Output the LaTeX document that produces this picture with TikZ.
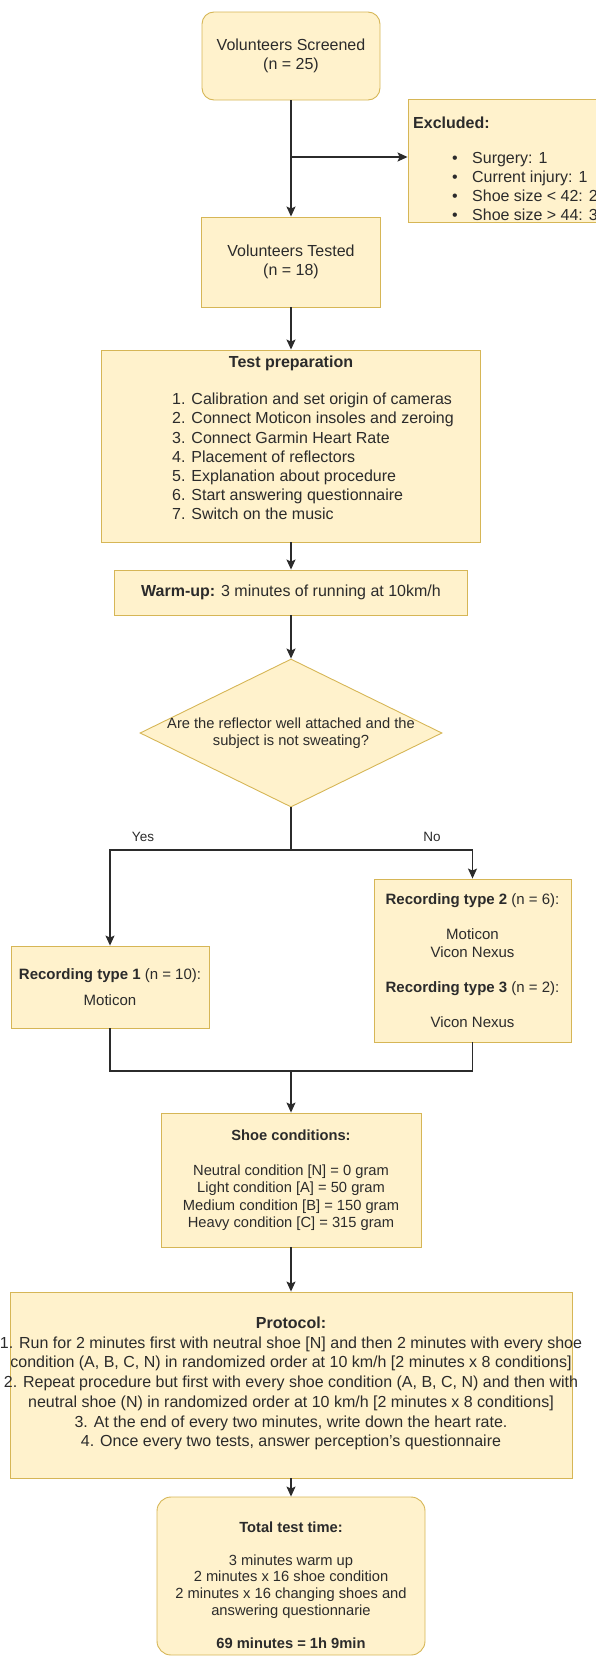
\documentclass[tikz,border=0pt]{standalone}
\usepackage{fontspec}
\setmainfont{Liberation Sans}
\usepackage{tikz}
\usepackage{xcolor}
\usetikzlibrary{arrows.meta,shapes.geometric}

\definecolor{boxfill}{HTML}{FFF2CC}
\definecolor{boxline}{HTML}{D6B656}
\definecolor{inkgray}{HTML}{2B2B2B}

\tikzset{
  box/.style={draw=boxline,fill=boxfill,line width=0.9pt,inner sep=0pt,text=inkgray,align=center},
  roundbox/.style={box,rounded corners=12pt},
  decision/.style={box,diamond},
  txt/.style={text=inkgray,inner sep=0pt,align=center},
  big/.style={font=\fontsize{16}{19.5}\selectfont},
  mid/.style={font=\fontsize{15}{17.5}\selectfont},
  small/.style={font=\fontsize{14.7}{17}\selectfont},
  flow/.style={draw=inkgray,line width=1.2pt},
}

\begin{document}
\begin{tikzpicture}[x=1pt,y=-1pt,>={Stealth[length=10pt,width=9pt,inset=2pt]}]
\useasboundingbox (0,0) rectangle (595,1657);

% screening
\node[roundbox,big,minimum width=178pt,minimum height=88pt] (screened) at (291,56) {Volunteers Screened\\(n = 25)};
\node[box,minimum width=212pt,minimum height=123pt] (excl) at (514,160.5) {};
\node[txt,big,anchor=west] (excltitle) at (413,123) {\textbf{Excluded:}};
\node[txt,anchor=west,align=left,font=\fontsize{16}{19}\selectfont] (excllist) at (452,186.5)
  {\makebox[20pt][l]{\textbullet}Surgery: 1\\
   \makebox[20pt][l]{\textbullet}Current injury: 1\\
   \makebox[20pt][l]{\textbullet}Shoe size < 42: 2\\
   \makebox[20pt][l]{\textbullet}Shoe size > 44: 3};
\node[box,big,minimum width=179pt,minimum height=90pt] (tested) at (291,262) {Volunteers Tested\\(n = 18)};

% preparation
\node[box,minimum width=379pt,minimum height=192pt] (prep) at (291,446) {};
\node[txt,big] (preptitle) at (291,363) {\textbf{Test preparation}};
\node[txt,anchor=west,align=left,font=\fontsize{16}{19.2}\selectfont] (preplist) at (172,456.5)
  {1. Calibration and set origin of cameras\\
   2. Connect Moticon insoles and zeroing\\
   3. Connect Garmin Heart Rate\\
   4. Placement of reflectors\\
   5. Explanation about procedure\\
   6. Start answering questionnaire\\
   7. Switch on the music};
\node[box,big,minimum width=353pt,minimum height=45pt] (warm) at (291,592.5) {\textbf{Warm-up:} 3 minutes of running at 10km/h};

% check
\node[decision,minimum width=302pt,minimum height=148pt] (quest) at (291,733) {};
\node[txt,small] (questtext) at (quest) {Are the reflector well attached and the\\subject is not sweating?};
\node[txt,font=\fontsize{13.5}{16}\selectfont] (yes) at (143,837) {Yes};
\node[txt,font=\fontsize{13.5}{16}\selectfont] (no) at (432,837) {No};

% recordings
\node[box,mid,minimum width=198pt,minimum height=82pt] (rec1) at (110,987)
  {\textbf{Recording type 1} (n = 10):\\[9pt]Moticon};
\node[box,mid,minimum width=197pt,minimum height=163pt] (rec2) at (472.5,960.5)
  {\textbf{Recording type 2} (n = 6):\\[17.5pt]Moticon\\Vicon Nexus\\[17.5pt]%
   \textbf{Recording type 3} (n = 2):\\[17.5pt]Vicon Nexus};

% conditions and protocol
\node[box,font=\fontsize{14.7}{17.5}\selectfont,minimum width=260pt,minimum height=134pt] (shoe) at (291,1180)
  {\textbf{Shoe conditions:}\\[17.5pt]Neutral condition [N] = 0 gram\\Light condition [A] = 50 gram\\
   Medium condition [B] = 150 gram\\Heavy condition [C] = 315 gram};
\node[box,minimum width=562pt,minimum height=186pt] (proto) at (291,1385) {};
\node[txt,font=\fontsize{16}{19.7}\selectfont] (prototext) at (291,1383.5)
  {\textbf{Protocol:}\\
   1. Run for 2 minutes first with neutral shoe [N] and then 2 minutes with every shoe\\
   condition (A, B, C, N) in randomized order at 10 km/h [2 minutes x 8 conditions]\\
   2. Repeat procedure but first with every shoe condition (A, B, C, N) and then with\\
   neutral shoe (N) in randomized order at 10 km/h [2 minutes x 8 conditions]\\
   3. At the end of every two minutes, write down the heart rate.\\
   4. Once every two tests, answer perception's questionnaire};
\node[roundbox,rounded corners=14pt,minimum width=268pt,minimum height=158pt] (total) at (291,1576) {};
\node[txt,font=\fontsize{14.7}{16.6}\selectfont] (totaltext) at (291,1585)
  {\textbf{Total test time:}\\[16.6pt]3 minutes warm up\\2 minutes x 16 shoe condition\\
   2 minutes x 16 changing shoes and\\answering questionnarie\\[16.6pt]\textbf{69 minutes = 1h 9min}};

% connectors
\coordinate (split) at (291,157);
\coordinate (fork) at (291,850);
\coordinate (join) at (291,1071);
\draw[flow,->] (screened) -- (tested);
\draw[flow,->] (split) -- (split -| excl.west);
\draw[flow,->] (tested) -- (prep);
\draw[flow,->] (prep) -- (warm);
\draw[flow,->] (warm) -- (quest);
\draw[flow] (quest) -- (fork);
\draw[flow,->] (fork) -| (rec1);
\draw[flow,->] (fork) -| (rec2);
\draw[flow] (rec1) |- (join);
\draw[flow] (rec2) |- (join);
\draw[flow,->] (join) -- (shoe);
\draw[flow,->] (shoe) -- (proto);
\draw[flow,->] (proto) -- (total);
\end{tikzpicture}
\end{document}
